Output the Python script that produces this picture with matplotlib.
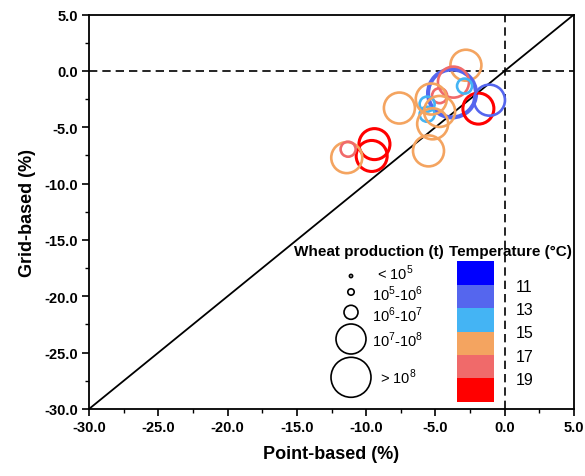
import matplotlib
matplotlib.use("Agg")
import matplotlib.pyplot as plt
import matplotlib as mpl
from matplotlib.colors import ListedColormap, BoundaryNorm
from matplotlib.ticker import MultipleLocator, FormatStrFormatter
import numpy as np

plt.rcParams['font.family'] = ['Liberation Sans', 'DejaVu Sans']
plt.rcParams['mathtext.fontset'] = 'custom'
plt.rcParams['mathtext.rm'] = 'Liberation Sans'

# ---- data ----
point_based = [-2.8, -3.8, -3.7, -2.9, -4.7, -1.9, -1.1, -7.6, -5.6, -5.6,
               -5.3, -4.7, -5.2, -5.5, -9.4, -9.6, -11.4, -11.3]
grid_based = [0.5, -2.0, -1.0, -1.35, -2.2, -3.35, -2.6, -3.3, -2.95, -3.85,
              -2.5, -3.6, -4.7, -7.1, -6.5, -7.55, -7.7, -6.95]
temperature = [16, 12, 18, 14, 18, 20, 12, 16, 14, 14,
               16, 16, 16, 16, 20, 20, 16, 18]
prod_class = [3, 4, 3, 2, 2, 3, 3, 3, 2, 2,
              3, 3, 3, 3, 3, 3, 3, 2]   # 0:<1e5 ... 4:>1e8

prod_labels = [r"< 10$^5$", r"10$^5$-10$^6$", r"10$^6$-10$^7$", r"10$^7$-10$^8$", r"> 10$^8$"]
temp_bounds = [9, 11, 13, 15, 17, 19, 21]
temp_ticks = [11, 13, 15, 17, 19]
temp_colors = ['#0000FF', '#5566EE', '#44B4F4', '#F4A460', '#F06A6A', '#FF0000']

# ---- style ----
class_radius_px = [1.6, 3.2, 7.5, 15.5, 24]
legend_radius_px = [1.6, 3.2, 7, 15, 20]
def s_of(r):
    return (2 * r * 0.72) ** 2

cmap = ListedColormap(temp_colors)
norm = BoundaryNorm(temp_bounds, cmap.N)

fig = plt.figure(figsize=(5.85, 4.77), dpi=100)
ax = fig.add_axes([89/585, 1-410/477, 485/585, 394.5/477])

ax.plot([-30, 5], [-30, 5], color='black', lw=1.3, zorder=1)
ax.axhline(0, color='black', lw=1.2, ls=(0, (5, 3)), zorder=1)
ax.axvline(0, color='black', lw=1.2, ls=(0, (5, 3)), zorder=1)

for x, y, t, c in zip(point_based, grid_based, temperature, prod_class):
    col = cmap(norm(t))
    lw = 3.0 if c == 4 else (2.2 if t >= 19 else 1.9)
    ax.scatter([x], [y], s=s_of(class_radius_px[c]), facecolors='none',
               edgecolors=[col], linewidths=lw, zorder=3)

ax.set_xlim(-30, 5)
ax.set_ylim(-30, 5)
ax.xaxis.set_major_locator(MultipleLocator(5))
ax.yaxis.set_major_locator(MultipleLocator(5))
ax.xaxis.set_minor_locator(MultipleLocator(2.5))
ax.yaxis.set_minor_locator(MultipleLocator(2.5))
ax.xaxis.set_major_formatter(FormatStrFormatter('%.1f'))
ax.yaxis.set_major_formatter(FormatStrFormatter('%.1f'))
ax.tick_params(which='major', direction='out', length=5, width=1.2, labelsize=10.5, pad=3)
ax.tick_params(which='minor', direction='out', length=3, width=1.0)
for lab in ax.get_xticklabels() + ax.get_yticklabels():
    lab.set_fontweight('bold')
for sp in ax.spines.values():
    sp.set_linewidth(1.3)

ax.set_xlabel('Point-based (%)', fontsize=13, fontweight='bold', labelpad=8)
ax.set_ylabel('Grid-based (%)', fontsize=13, fontweight='bold', labelpad=6)

# ---- size legend ----
def fx(px):
    return (px - 89) / 485
def fy(py):
    return (410 - py) / 394.5

ax.text(fx(369), fy(251.7), 'Wheat production (t)', transform=ax.transAxes,
        ha='center', va='center', fontsize=11, fontweight='bold')
ax.text(fx(510), fy(251.7), 'Temperature (\u00b0C)', transform=ax.transAxes,
        ha='center', va='center', fontsize=11, fontweight='bold')

leg_py = [277, 293, 313.3, 340, 378.3]
lab_py = [273.5, 294.5, 315, 340, 377]
lab_px = [377, 372, 372, 372, 380]
for i in range(5):
    ax.scatter([fx(351)], [fy(leg_py[i])], s=s_of(legend_radius_px[i]), facecolors='none',
               edgecolors='black', linewidths=1.2, transform=ax.transAxes, zorder=4,
               clip_on=False)
    ax.text(fx(lab_px[i]), fy(lab_py[i]), prod_labels[i], transform=ax.transAxes,
            ha='left', va='center', fontsize=10.5)

# ---- colour bar ----
cax = fig.add_axes([456.7/585, 1-402.7/477, 37.3/585, 140.4/477])
cb = mpl.colorbar.ColorbarBase(cax, cmap=cmap, norm=norm, boundaries=temp_bounds,
                               ticks=temp_ticks, orientation='vertical')
cax.invert_yaxis()
cb.outline.set_visible(False)
cax.minorticks_off()
cax.tick_params(which='both', length=0, labelsize=11.5, pad=16)

fig.savefig('out.png', dpi=100)
